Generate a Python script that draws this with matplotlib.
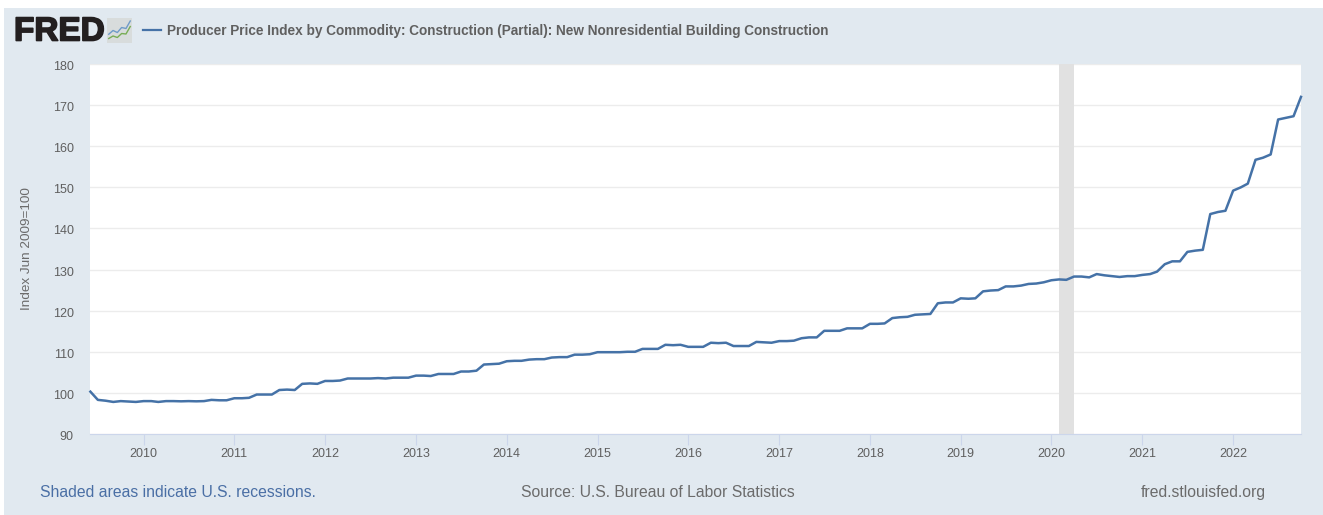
import pandas as pd
import matplotlib
matplotlib.use('Agg')
import matplotlib.pyplot as plt
import matplotlib.dates as mdates
import matplotlib.patheffects as pe
from matplotlib.patches import Rectangle
from matplotlib.transforms import ScaledTranslation

W, H = 1323, 515

title = 'Producer Price Index by Commodity: Construction (Partial): New Nonresidential Building Construction'
y_label = 'Index Jun 2009=100'
y_ticks = [90, 100, 110, 120, 130, 140, 150, 160, 170, 180]
years = list(range(2010, 2023))

# monthly values, Jun 2009 - Oct 2022
v2009 = [100.3, 98.3, 98.1, 97.8, 98.0, 97.9, 97.8]
v2010 = [98.0, 98.0, 97.8, 98.0, 98.0, 97.95, 98.0, 97.95, 98.0, 98.3, 98.2, 98.2]
v2011 = [98.7, 98.7, 98.8, 99.6, 99.6, 99.6, 100.7, 100.8, 100.7, 102.2, 102.3, 102.2]
v2012 = [102.9, 102.9, 103.0, 103.5, 103.5, 103.5, 103.5, 103.6, 103.5, 103.7, 103.7, 103.7]
v2013 = [104.2, 104.2, 104.1, 104.6, 104.6, 104.6, 105.2, 105.2, 105.4, 106.9, 107.0, 107.1]
v2014 = [107.7, 107.8, 107.8, 108.1, 108.2, 108.2, 108.6, 108.7, 108.7, 109.3, 109.3, 109.4]
v2015 = [109.9, 109.9, 109.9, 109.9, 110.0, 110.0, 110.7, 110.7, 110.7, 111.7, 111.6, 111.7]
v2016 = [111.2, 111.2, 111.2, 112.2, 112.1, 112.2, 111.4, 111.4, 111.4, 112.4, 112.3, 112.2]
v2017 = [112.6, 112.6, 112.7, 113.3, 113.5, 113.5, 115.1, 115.1, 115.1, 115.7, 115.7, 115.7]
v2018 = [116.8, 116.8, 116.9, 118.2, 118.4, 118.5, 119.0, 119.1, 119.2, 121.8, 122.0, 122.0]
v2019 = [123.0, 122.9, 123.0, 124.7, 124.9, 125.0, 125.9, 125.9, 126.1, 126.5, 126.6, 126.9]
v2020 = [127.4, 127.6, 127.5, 128.3, 128.3, 128.1, 128.9, 128.6, 128.4, 128.2, 128.4, 128.4]
v2021 = [128.7, 128.9, 129.5, 131.3, 132.0, 132.0, 134.3, 134.6, 134.8, 143.5, 144.0, 144.3]
v2022 = [149.2, 150.0, 150.9, 156.7, 157.2, 158.0, 166.5, 166.9, 167.3, 172.0]

values = (v2009 + v2010 + v2011 + v2012 + v2013 + v2014 + v2015 + v2016
          + v2017 + v2018 + v2019 + v2020 + v2021 + v2022)
dates = pd.date_range('2009-06-01', periods=len(values), freq='MS')

recession_start = pd.Timestamp('2020-02-01')
recession_end = pd.Timestamp('2020-04-01')

# little chart in the logo
icon_blue = [0.35, 0.5, 0.42, 0.62, 0.58, 0.88]
icon_green = [0.18, 0.28, 0.22, 0.38, 0.36, 0.66]

BLUE = '#4572a7'
PANEL = '#e1e9f0'
GREY = '#5f5f5f'

plt.rcParams['font.family'] = ['Liberation Sans', 'DejaVu Sans']
fig = plt.figure(figsize=(W / 100, H / 100), dpi=100, facecolor='white')

# background panel
fig.patches.append(Rectangle((4 / W, 0), (W - 4) / W, 1 - 8 / H, transform=fig.transFigure,
                             facecolor=PANEL, edgecolor='none', zorder=-5))

ax = fig.add_axes([90.4 / W, 1 - 434 / H, (1301 - 90.4) / W, (434 - 64) / H])
ax.plot(dates, values, color=BLUE, lw=1.8, solid_joinstyle='round', clip_on=False, zorder=3)
ax.axvspan(recession_start, recession_end, color='#e1e1e1', lw=0, zorder=2)

ax.set_xlim(dates[0], dates[-1])
ax.set_ylim(90, 180)
ax.set_yticks(y_ticks)
ax.set_xticks([pd.Timestamp(f'{y}-01-01') for y in years])
ax.xaxis.set_major_formatter(mdates.DateFormatter('%Y'))
ax.grid(axis='y', color='#ececec', lw=1)
ax.set_axisbelow(True)
for s in ax.spines.values():
    s.set_visible(False)
ax.spines['bottom'].set_visible(True)
ax.spines['bottom'].set_color('#ccd6eb')
ax.tick_params(axis='y', length=0, labelsize=9, labelcolor=GREY, pad=12)
ax.tick_params(axis='x', length=8, color='#ccd6eb', labelsize=9, labelcolor=GREY, pad=2)
# y labels sit a bit under their gridlines
for lab in ax.get_yticklabels():
    lab.set_transform(lab.get_transform() + ScaledTranslation(0, -1.5 / 100, fig.dpi_scale_trans))
fig.text(27 / W, 1 - 249 / H, y_label, rotation=90, ha='center', va='center', fontsize=9.7, color='#6b6b6b')

# header
fig.text(14 / W, 1 - 32 / H, 'FRED', fontsize=24, fontweight='bold', color='#231f20', va='center', ha='left',
         path_effects=[pe.withStroke(linewidth=1.2, foreground='#231f20')])
icon = fig.add_axes([107 / W, 1 - 43 / H, 25 / W, 25 / H])
icon.add_patch(Rectangle((0, 0), 1, 1, transform=icon.transAxes, facecolor='#d8dcdc', edgecolor='none', zorder=0))
icon.plot(range(len(icon_blue)), icon_blue, color='#6f9bc8', lw=1)
icon.plot(range(len(icon_green)), icon_green, color='#78ad55', lw=1)
icon.set_xlim(-0.4, 5.4)
icon.set_ylim(0, 1)
icon.axis('off')

fig.add_artist(plt.Line2D([143 / W, 161 / W], [1 - 30 / H, 1 - 30 / H], color=BLUE, lw=1.6))
fig.text(167 / W, 1 - 31 / H, title, fontsize=9.78, fontweight='bold', color='#606060', va='center', ha='left')

# footer
fig.text(40 / W, 1 - 492.5 / H, 'Shaded areas indicate U.S. recessions.', fontsize=11.3, color='#4a6fa5', va='center', ha='left')
fig.text(657.5 / W, 1 - 492.5 / H, 'Source: U.S. Bureau of Labor Statistics', fontsize=11.3, color='#6b6b6b', va='center', ha='center')
fig.text(1266 / W, 1 - 492.5 / H, 'fred.stlouisfed.org', fontsize=11.3, color='#6b6b6b', va='center', ha='right')

fig.savefig('out.png', dpi=100, facecolor='white')
